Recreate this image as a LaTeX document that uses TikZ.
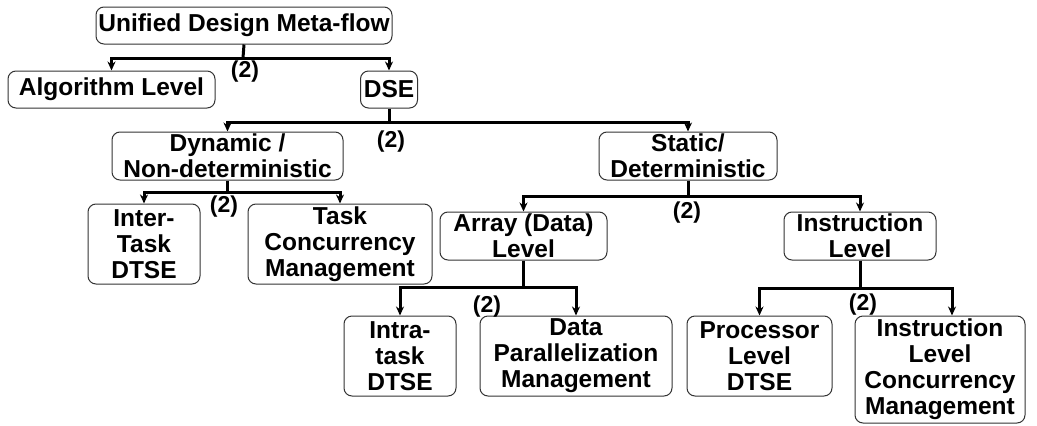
\documentclass[tikz,border=0pt]{standalone}
\usepackage{fontspec}
\setmainfont{Liberation Sans}
\usetikzlibrary{arrows.meta}
\begin{document}
\begin{tikzpicture}[x=1pt,y=-1pt,
    box/.style={draw=black!80,line width=1pt,rounded corners=8pt,inner sep=0pt,align=center,
        font=\fontsize{24.5}{26}\selectfont\bfseries},
    lbl/.style={inner sep=0pt,font=\fontsize{23}{24}\selectfont\bfseries},
    link/.style={line width=3pt,-{Stealth[length=9pt,width=8pt]}}]
    \useasboundingbox (0,0) rectangle (1037,426);
    % boxes
    \node[box,minimum width=296,minimum height=37] (meta) at (244,25.5) {Unified Design Meta-flow};
    \node[box,minimum width=207,minimum height=37] (algo) at (111.5,89.5) {Algorithm Level};
    \node[box,minimum width=57,minimum height=37] (dse) at (389,89.5) {DSE};
    \node[box,minimum width=231,minimum height=48] (dyn) at (227.5,156) {Dynamic /\\Non-deterministic};
    \node[box,minimum width=178,minimum height=48] (stat) at (688,156) {Static/\\Deterministic};
    \node[box,minimum width=112,minimum height=80] (inter) at (144,244) {Inter-\\Task\\DTSE};
    \node[box,minimum width=184,minimum height=80] (taskc) at (340,244) {Task\\Concurrency\\Management};
    \node[box,minimum width=167,minimum height=48] (array) at (523.5,236) {Array (Data)\\Level};
    \node[box,minimum width=152,minimum height=48] (instr) at (860,236) {Instruction\\Level};
    \node[box,minimum width=112,minimum height=80] (intra) at (400,356) {Intra-\\task\\DTSE};
    \node[box,minimum width=192,minimum height=80] (datap) at (576,356) {Data\\Parallelization\\Management};
    \node[box,minimum width=145,minimum height=80] (proc) at (759.5,356) {Processor\\Level\\DTSE};
    \node[box,minimum width=170,minimum height=107] (ilcm) at (940,369.5) {Instruction\\Level\\Concurrency\\Management};
    % (2) marks
    \node[lbl] (m1) at (245,72) {(2)};
    \node[lbl] (m2) at (391,142) {(2)};
    \node[lbl] (m3) at (224,207) {(2)};
    \node[lbl] (m4) at (687,213) {(2)};
    \node[lbl] (m5) at (487,307) {(2)};
    \node[lbl] (m6) at (863,305) {(2)};
    % branches
    \coordinate (j1) at (243,58);
    \coordinate (j2) at (389,122);
    \coordinate (j3) at (227.5,192);
    \coordinate (j4) at (688,196);
    \coordinate (j5) at (523.5,287);
    \coordinate (j6) at (860,288);
    \draw[line width=3pt] (meta.south) -- (j1);
    \draw[link] (j1) -| (algo.north);
    \draw[link] (j1) -| (dse.north);
    \draw[line width=3pt] (dse.south) -- (j2);
    \draw[link] (j2) -| (dyn.north);
    \draw[link] (j2) -| (stat.north);
    \draw[line width=3pt] (dyn.south) -- (j3);
    \draw[link] (j3) -| (inter.north);
    \draw[link] (j3) -| (taskc.north);
    \draw[line width=3pt] (stat.south) -- (j4);
    \draw[link] (j4) -| (array.north);
    \draw[link] (j4) -| (instr.north);
    \draw[line width=3pt] (array.south) -- (j5);
    \draw[link] (j5) -| (intra.north);
    \draw[link] (j5) -| (datap.north);
    \draw[line width=3pt] (instr.south) -- (j6);
    \draw[link] (j6) -| (proc.north);
    \draw[link] (j6) -| ([xshift=12pt]ilcm.north);
\end{tikzpicture}
\end{document}
